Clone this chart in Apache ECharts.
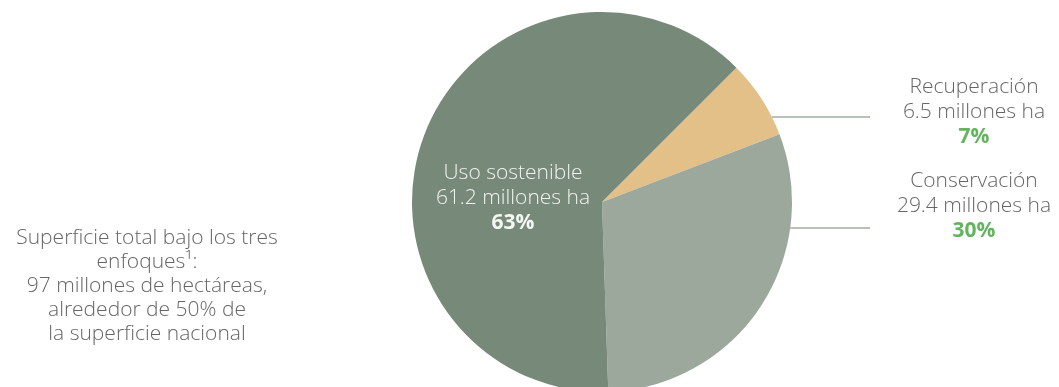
<!DOCTYPE html>
<html>
<head>
<meta charset="utf-8">
<script src="https://cdn.jsdelivr.net/npm/echarts@6/dist/echarts.min.js"></script>
<style>
html,body{margin:0;padding:0;background:#fff;}
#chart{width:1059px;height:387px;}
</style>
</head>
<body>
<div id="chart"></div>
<script>
// Data
var categories = ['Recuperación', 'Conservación', 'Uso sostenible'];
var values = [6.5, 29.4, 61.2];
var valueLabels = ['6.5 millones ha', '29.4 millones ha', '61.2 millones ha'];
var percentLabels = ['7%', '30%', '63%'];
var colors = ['#e3c088', '#9ca89c', '#778a7a'];
var noteLines = ['Superficie total bajo los tres', 'enfoques\u00b9:', '97 millones de hectáreas,', 'alrededor de 50% de', 'la superficie nacional'];

var FONT = "'Open Sans', 'Noto Sans', sans-serif";
var FS = 21;
var CX = 602, CY = 202, R = 190;

// label anchor placement (annotation layout, not data)
var labelPos = {
  0: { x: 974, y: 112, lineY: 117 },
  1: { x: 974, y: 206, lineY: 228 },
  2: { x: 513, y: 198 }
};
var lineEndX = 870;

var chart = echarts.init(document.getElementById('chart'), null, { renderer: 'canvas' });

var seriesData = categories.map(function (c, i) {
  var inside = i === 2;
  var txt = inside ? '#f2f2ee' : '#666666';
  return {
    name: c,
    value: values[i],
    itemStyle: { color: colors[i] },
    label: {
      show: true,
      formatter: '{n|' + c + '}\n{v|' + valueLabels[i] + '}\n{p|' + percentLabels[i] + '}',
      rich: {
        n: { fontFamily: FONT, fontSize: FS, fontWeight: 300, color: txt, lineHeight: 25, align: 'center' },
        v: { fontFamily: FONT, fontSize: FS, fontWeight: 300, color: txt, lineHeight: 25, align: 'center' },
        p: { fontFamily: FONT, fontSize: FS, fontWeight: 'bold', color: inside ? '#f6f6f2' : '#62b45e', lineHeight: 25, align: 'center' }
      }
    },
    labelLine: { show: !inside, lineStyle: { color: '#6f8571', width: 1 } }
  };
});

chart.setOption({
  backgroundColor: '#ffffff',
  animation: false,
  graphic: [{
    type: 'text',
    x: 147,
    y: 226,
    style: {
      text: noteLines.join('\n'),
      fill: '#666666',
      font: '300 ' + FS + 'px ' + FONT,
      lineHeight: 24,
      align: 'center',
      verticalAlign: 'top'
    }
  }],
  series: [{
    type: 'pie',
    center: [CX, CY],
    radius: R,
    startAngle: 45,
    clockwise: true,
    silent: true,
    label: { position: 'outside' },
    labelLine: { show: true, length: 10, length2: 10 },
    labelLayout: function (params) {
      var p = labelPos[params.dataIndex];
      var out = { x: p.x, y: p.y, align: 'center', verticalAlign: 'middle' };
      if (p.lineY !== undefined) {
        var dy = p.lineY - CY;
        var sx = CX + Math.sqrt(R * R - dy * dy);
        out.labelLinePoints = [[sx, p.lineY], [sx + 1, p.lineY], [lineEndX, p.lineY]];
      }
      return out;
    },
    data: seriesData
  }]
});
</script>
</body>
</html>
